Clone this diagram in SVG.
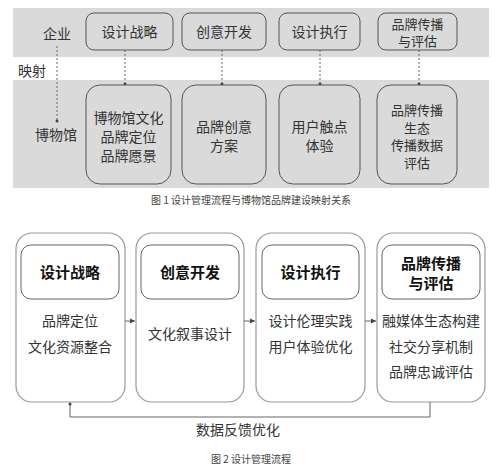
<svg xmlns="http://www.w3.org/2000/svg" width="500" height="474" viewBox="0 0 500 474">
<style>
text{font-family:"Noto Sans CJK SC","Noto Sans",sans-serif;fill:#333;text-anchor:middle}
.t{font-size:14px}
.s{font-size:13px}
.lbl{font-size:14px}
.cap{font-size:10px;fill:#444}
.band{fill:#dadada}
.b1{fill:#dadada;stroke:#555;stroke-width:1}
.ob{fill:#fff;stroke:#999;stroke-width:1.2}
.ib{fill:#fff;stroke:#666;stroke-width:1}
.h{font-size:15px;font-weight:bold;fill:#111}
.dot{stroke:#666;stroke-width:1;stroke-dasharray:2 2;fill:none}
.ln{stroke:#666;stroke-width:1;fill:none}
</style>
<defs>
<marker id="dm" markerWidth="4" markerHeight="4" refX="2" refY="2" markerUnits="userSpaceOnUse"><circle cx="2" cy="2" r="1.5" fill="#444"/></marker>
<marker id="ar" markerWidth="6" markerHeight="6" refX="5" refY="3" orient="auto" markerUnits="userSpaceOnUse"><path d="M0,0.5 L5,3 L0,5.5 Z" fill="#444"/></marker>
</defs>
<g id="fig1">
<rect class="band" x="13" y="8" width="476" height="49"/>
<rect class="band" x="13" y="80" width="476" height="108"/>
<text class="lbl" x="57" y="39">企业</text>
<text class="lbl" x="32" y="76">映射</text>
<text class="lbl" x="56" y="140">博物馆</text>
</g>
<g id="connectors1">
<line class="dot" x1="57" y1="46" x2="57" y2="121" marker-end="url(#dm)"/>
<line class="dot" x1="125" y1="50" x2="125" y2="84" marker-end="url(#dm)"/>
<line class="dot" x1="222" y1="50" x2="222" y2="84" marker-end="url(#dm)"/>
<line class="dot" x1="320" y1="50" x2="320" y2="84" marker-end="url(#dm)"/>
<line class="dot" x1="419" y1="50" x2="419" y2="84" marker-end="url(#dm)"/>
</g>
<g id="t1"><rect class="b1" x="86" y="13" width="87" height="37" rx="8"/><text class="t" x="129.5" y="37">设计战略</text></g>
<g id="t2"><rect class="b1" x="182" y="13" width="84" height="37" rx="8"/><text class="t" x="224" y="37">创意开发</text></g>
<g id="t3"><rect class="b1" x="279" y="13" width="81" height="37" rx="8"/><text class="t" x="319.5" y="37">设计执行</text></g>
<g id="t4"><rect class="b1" x="378" y="13" width="79" height="37" rx="8"/><text class="s" x="417.5" y="28.5">品牌传播<tspan x="417.5" dy="17.5">与评估</tspan></text></g>
<g id="m1"><rect class="b1" x="86" y="85" width="85" height="99" rx="14"/><text class="t" x="128.5" y="123">博物馆文化<tspan x="128.5" dy="19">品牌定位</tspan><tspan x="128.5" dy="19">品牌愿景</tspan></text></g>
<g id="m2"><rect class="b1" x="182" y="85" width="84" height="99" rx="14"/><text class="t" x="224" y="132">品牌创意<tspan x="224" dy="19">方案</tspan></text></g>
<g id="m3"><rect class="b1" x="279" y="85" width="81" height="99" rx="14"/><text class="t" x="319.5" y="132">用户触点<tspan x="319.5" dy="19">体验</tspan></text></g>
<g id="m4"><rect class="b1" x="377" y="85" width="80" height="99" rx="14"/><text class="s" x="417" y="115">品牌传播<tspan x="417" dy="17.5">生态</tspan><tspan x="417" dy="17.5">传播数据</tspan><tspan x="417" dy="17.5">评估</tspan></text></g>
<text class="cap" x="251" y="204">图 1 设计管理流程与博物馆品牌建设映射关系</text>

<g id="s1"><rect class="ob" x="16" y="233" width="109" height="169" rx="16"/><rect class="ib" x="21" y="245" width="98" height="54" rx="10"/><text class="h" x="70" y="278">设计战略</text><text class="t" x="70" y="326">品牌定位<tspan x="70" dy="26">文化资源整合</tspan></text></g>
<g id="s2"><rect class="ob" x="136" y="233" width="108" height="169" rx="16"/><rect class="ib" x="141" y="245" width="98" height="54" rx="10"/><text class="h" x="190" y="278">创意开发</text><text class="t" x="190" y="339">文化叙事设计</text></g>
<g id="s3"><rect class="ob" x="256" y="233" width="109" height="169" rx="16"/><rect class="ib" x="262" y="245" width="97" height="54" rx="10"/><text class="h" x="310.5" y="278">设计执行</text><text class="t" x="310.5" y="326">设计伦理实践<tspan x="310.5" dy="26">用户体验优化</tspan></text></g>
<g id="s4"><rect class="ob" x="377" y="233" width="108" height="169" rx="16"/><rect class="ib" x="382" y="245" width="98" height="54" rx="10"/><text class="h" x="431" y="269">品牌传播<tspan x="431" dy="20">与评估</tspan></text><text class="t" x="431" y="326">融媒体生态构建<tspan x="431" dy="26">社交分享机制</tspan><tspan x="431" dy="25">品牌忠诚评估</tspan></text></g>
<g id="connectors2">
<line class="ln" x1="125" y1="321" x2="135" y2="321" marker-end="url(#ar)"/>
<line class="ln" x1="244" y1="321" x2="255" y2="321" marker-end="url(#ar)"/>
<line class="ln" x1="365" y1="321" x2="376" y2="321" marker-end="url(#ar)"/>
<polyline class="ln" points="430,402 430,417 70,417 70,404" marker-end="url(#dm)"/>
</g>
<text class="t" x="238" y="435">数据反馈优化</text>
<text class="cap" x="251" y="463">图 2 设计管理流程</text>
</svg>
